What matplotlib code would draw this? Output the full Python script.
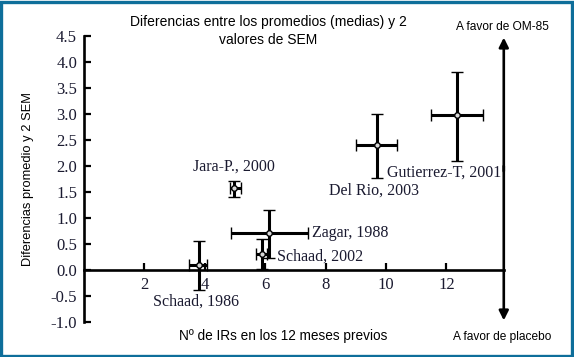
import matplotlib
matplotlib.use('Agg')
import matplotlib.pyplot as plt
from matplotlib.patches import Rectangle

plt.rcParams['axes.unicode_minus'] = False
plt.rcParams['font.family'] = ['Liberation Serif', 'DejaVu Serif']

# Estudios: centro y extremos de las barras de error
estudios = ['Schaad, 1986', 'Jara-P., 2000', 'Zagar, 1988', 'Schaad, 2002',
            'Del Rio, 2003', 'Gutierrez-T, 2001']
x_centro = [3.81, 4.98, 6.14, 5.90, 9.69, 12.34]
x_min = [3.49, 4.83, 4.86, 5.70, 9.00, 11.48]
x_max = [4.06, 5.20, 7.41, 6.07, 10.37, 13.20]
y_centro = [0.10, 1.57, 0.72, 0.31, 2.40, 2.98]
y_min = [-0.38, 1.40, 0.23, 0.02, 1.76, 2.10]
y_max = [0.56, 1.72, 1.15, 0.59, 3.00, 3.81]

# posiciones de las etiquetas de cada estudio
etiqueta_x = [2.28, 3.61, 7.54, 6.38, 8.11, 10.02]
etiqueta_y = [-0.61, 1.98, 0.71, 0.26, 1.52, 1.88]

xticks = [2, 4, 6, 8, 10, 12]
yticks = [-1.0, -0.5, 0.0, 0.5, 1.0, 1.5, 2.0, 2.5, 3.0, 3.5, 4.0, 4.5]
x_flecha = 13.9

fuente_sans = ['Liberation Sans', 'DejaVu Sans']
fuente_serif = ['Liberation Serif', 'DejaVu Serif']
color_texto = '#1a1a30'

fig = plt.figure(figsize=(5.74, 3.57), dpi=100)
ax = fig.add_axes([0, 0, 1, 1])
ax.set_xlim(-84 / 30.2, (574 - 84) / 30.2)
ax.set_ylim((270 - 357) / 52, 270 / 52)
ax.patch.set_alpha(0)

# ejes en cero
ax.spines['top'].set_visible(False)
ax.spines['right'].set_visible(False)
ax.spines['left'].set_position(('data', 0))
ax.spines['bottom'].set_position(('data', 0))
ax.spines['left'].set_bounds(-1.0, 4.5)
ax.spines['bottom'].set_bounds(0, x_flecha)
for s in ['left', 'bottom']:
    ax.spines[s].set_linewidth(1.9)

ax.set_xticks(xticks)
ax.set_xticklabels([str(t) for t in xticks])
ax.set_yticks(yticks)
ax.set_yticklabels(['%.1f' % t for t in yticks])
ax.tick_params(direction='in', length=5, width=1.6, colors='black',
               labelcolor=color_texto, labelsize=12)
ax.tick_params(axis='y', pad=5)
ax.tick_params(axis='x', pad=5)

# barras de error
for i in range(len(estudios)):
    ax.errorbar(x_centro[i], y_centro[i],
                xerr=[[x_centro[i] - x_min[i]], [x_max[i] - x_centro[i]]],
                yerr=[[y_centro[i] - y_min[i]], [y_max[i] - y_centro[i]]],
                fmt='o', color='black', ecolor='black', elinewidth=2.2,
                capsize=4.3, capthick=2.2, markersize=4,
                markerfacecolor='#d8d8d8', markeredgecolor='black',
                markeredgewidth=1.0, zorder=3)
    ax.text(etiqueta_x[i], etiqueta_y[i], estudios[i], family=fuente_serif,
            fontsize=11.5, color=color_texto, ha='left', va='center', zorder=4)

# flecha doble a la derecha
ax.annotate('', xy=(x_flecha, 4.47), xytext=(x_flecha, 1.9),
            arrowprops=dict(arrowstyle='-|>', lw=1.9, color='black',
                            mutation_scale=14, shrinkA=0, shrinkB=0))
ax.annotate('', xy=(x_flecha, -0.97), xytext=(x_flecha, 2.0),
            arrowprops=dict(arrowstyle='-|>', lw=1.9, color='black',
                            mutation_scale=14, shrinkA=0, shrinkB=0))

# textos
fig.text(268 / 574, 1 - 31 / 357,
         'Diferencias entre los promedios (medias) y 2\nvalores de SEM',
         family=fuente_sans, fontsize=10, ha='center', va='center',
         linespacing=1.3)
fig.text(502 / 574, 1 - 27 / 357, 'A favor de OM-85', family=fuente_sans,
         fontsize=8.6, ha='center', va='center')
fig.text(502 / 574, 1 - 337 / 357, 'A favor de placebo', family=fuente_sans,
         fontsize=8.6, ha='center', va='center')
fig.text(283 / 574, 1 - 336 / 357, 'Nº de IRs en los 12 meses previos',
         family=fuente_sans, fontsize=9.8, ha='center', va='center')
fig.text(28 / 574, 1 - 179 / 357, 'Diferencias promedio y 2 SEM',
         family=fuente_sans, fontsize=9.3, ha='center', va='center',
         rotation=90)

# marco azul
fig.patches.append(Rectangle((0.002, 0.004), 0.994, 0.991,
                             transform=fig.transFigure, fill=False,
                             edgecolor='#0e6e9a', linewidth=2.4))

fig.savefig('out.png', dpi=100)
